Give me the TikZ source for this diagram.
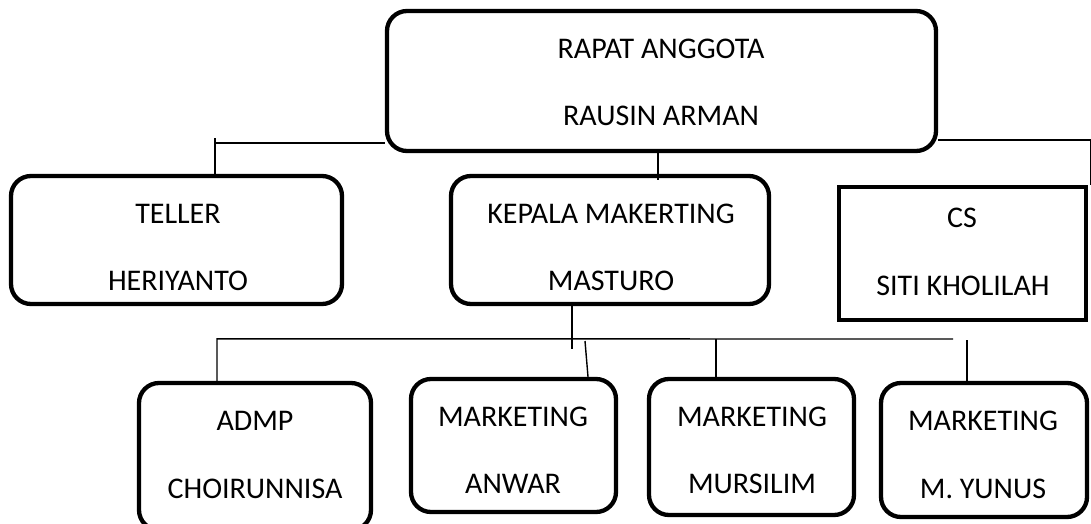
\documentclass[tikz,border=0pt]{standalone}
\usepackage{fontspec}
\setmainfont{Carlito}
\begin{document}
\begin{tikzpicture}[x=1pt,y=-1pt,
  box/.style={draw=black,line width=4.3pt,rounded corners=20pt,inner sep=0pt,minimum width=#1},
  sqbox/.style={draw=black,line width=4.5pt,inner sep=0pt},
  lbl/.style={anchor=base,inner sep=0pt,font=\fontsize{30}{34}\selectfont},
  conn/.style={draw=black,line width=1.4pt}]
\clip (0,0) rectangle (1091,524);
\fill[white] (0,0) rectangle (1091,524);
% boxes
\node[box=549pt,minimum height=140pt] (top) at (661.5,81) {};
\node[box=331pt,minimum height=128pt] (tel) at (176.5,240) {};
\node[box=318pt,minimum height=128pt] (kep) at (610,240) {};
\node[sqbox,minimum width=247pt,minimum height=133pt] (cs) at (962.5,253.5) {};
\node[box=232pt,minimum height=147pt] (adm) at (255,456.5) {};
\node[box=205pt,minimum height=133pt] (anw) at (513.5,445.5) {};
\node[box=205pt,minimum height=136pt] (mur) at (751.5,447) {};
\node[box=206pt,minimum height=134pt] (yun) at (984,450) {};
% texts
\node[lbl] (t1) at (661,58.5) {RAPAT ANGGOTA};
\node[lbl] (t2) at (661,125) {RAUSIN ARMAN};
\node[lbl] (t3) at (178,223) {TELLER};
\node[lbl] (t4) at (178,290.5) {HERIYANTO};
\node[lbl] (t5) at (611,223) {KEPALA MAKERTING};
\node[lbl] (t6) at (611,290.5) {MASTURO};
\node[lbl] (t7) at (962,227) {CS};
\node[lbl] (t8) at (963,295) {SITI KHOLILAH};
\node[lbl] (t9) at (255,430) {ADMP};
\node[lbl] (t10) at (255,498) {CHOIRUNNISA};
\node[lbl] (t11) at (513,426) {MARKETING};
\node[lbl] (t12) at (513,493) {ANWAR};
\node[lbl] (t13) at (752,426) {MARKETING};
\node[lbl] (t14) at (752,493) {MURSILIM};
\node[lbl] (t15) at (983,430) {MARKETING};
\node[lbl] (t16) at (983,498) {M. YUNUS};
% connectors level 1
\draw[conn] ([yshift=-62pt]top.west) -| ([xshift=38.5pt]tel.north);
\draw[conn] ([xshift=38.5pt]tel.north) -- ++(0,-36);
\draw[conn] ([xshift=-3.5pt]top.south) -- ([xshift=48pt,yshift=-6pt]kep.north);
\draw[conn] ([yshift=-59pt]top.east) -| ([xshift=2pt]cs.north east);
% connectors level 2
\coordinate (busend) at (953,339);
\draw[conn] ([xshift=-38pt]kep.south) -- ++(0,43);
\draw[conn] ([xshift=-38pt]adm.north) -- ++(0,-42) -- (busend);
\draw[conn] (585,341) -- ([xshift=74.5pt]anw.north);
\draw[conn] ([xshift=-35.5pt]mur.north) -- ++(0,-38);
\draw[conn] ([xshift=-17pt]yun.north) -- ++(0,-41);
\end{tikzpicture}
\end{document}
